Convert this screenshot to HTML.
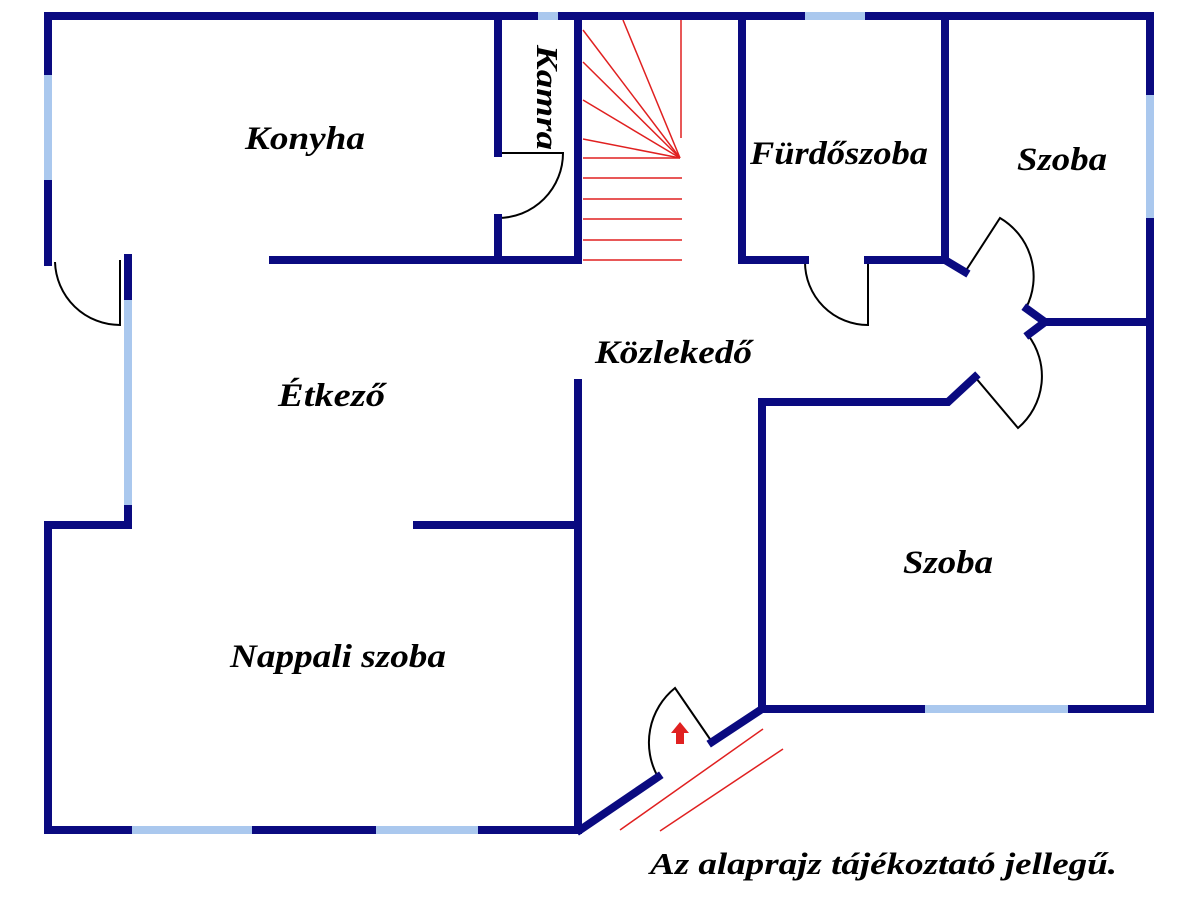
<!DOCTYPE html>
<html><head><meta charset="utf-8"><style>
html,body{margin:0;padding:0;background:#fff;width:1200px;height:900px;overflow:hidden}
text{font-family:"Liberation Serif",serif;font-weight:bold;font-style:italic;fill:#000}
</style></head><body>
<svg width="1200" height="900" viewBox="0 0 1200 900" xmlns="http://www.w3.org/2000/svg">
<g stroke="#e02020" stroke-width="1.5" fill="none">
<line x1="680" y1="158" x2="583" y2="30"/>
<line x1="680" y1="158" x2="583" y2="62"/>
<line x1="680" y1="158" x2="583" y2="100"/>
<line x1="680" y1="158" x2="583" y2="139"/>
<line x1="680" y1="158" x2="623" y2="20"/>
<line x1="681" y1="20" x2="681" y2="138"/>
<line x1="583" y1="158" x2="680" y2="158"/>
<line x1="583" y1="178" x2="682" y2="178"/>
<line x1="583" y1="199" x2="682" y2="199"/>
<line x1="583" y1="219" x2="682" y2="219"/>
<line x1="583" y1="240" x2="682" y2="240"/>
<line x1="583" y1="260" x2="682" y2="260"/>
<line x1="620" y1="830" x2="763" y2="729"/>
<line x1="660" y1="831" x2="783" y2="749"/>
</g>
<g stroke="#000" stroke-width="2" fill="none">
<path d="M498 153 L563 153 A65 65 0 0 1 498 218"/>
<path d="M55 262 A65 65 0 0 0 120 325 L120 260"/>
<path d="M805 262 A63 63 0 0 0 868 325 L868 260"/>
<path d="M965 272 L1000 218 A68 68 0 0 1 1026 308"/>
<path d="M1028 335 A68 68 0 0 1 1018 428 L975 377"/>
<path d="M712 742 L675 688 A70 70 0 0 0 658 777"/>
</g>
<g stroke="#0a0a80" stroke-width="8" fill="none" stroke-linecap="square" stroke-linejoin="miter">
<path d="M48 262 L48 16 L1150 16 L1150 709 L762 709"/>
<path d="M128 258 L128 525 L48 525 L48 830 L578 830"/>
<path d="M498 16 L498 153"/>
<path d="M498 218 L498 260"/>
<path d="M273 260 L578 260 L578 16"/>
<path d="M742 16 L742 260 L805 260"/>
<path d="M868 260 L945 260 L945 16"/>
<path d="M945 260 L965 272"/>
<path d="M1027 309 L1045 322 L1029 334"/>
<path d="M1045 322 L1150 322"/>
<path d="M975 377 L948 402 L762 402 L762 709 L712 742"/>
<path d="M658 777 L580 830"/>
<path d="M578 383 L578 830"/>
<path d="M417 525 L578 525"/>
</g>
<g stroke="#aac8ee" stroke-width="8" fill="none">
<line x1="48" y1="75" x2="48" y2="180"/>
<line x1="128" y1="300" x2="128" y2="505"/>
<line x1="538" y1="16" x2="558" y2="16"/>
<line x1="805" y1="16" x2="865" y2="16"/>
<line x1="1150" y1="95" x2="1150" y2="218"/>
<line x1="925" y1="709" x2="1068" y2="709"/>
<line x1="132" y1="830" x2="252" y2="830"/>
<line x1="376" y1="830" x2="478" y2="830"/>
</g>
<path d="M680 722 L689 733 L684 733 L684 744 L676 744 L676 733 L671 733 Z" fill="#e02020"/>
<text x="245" y="149" font-size="33" textLength="120" lengthAdjust="spacingAndGlyphs">Konyha</text>
<text x="750" y="164" font-size="33" textLength="178" lengthAdjust="spacingAndGlyphs">Fürdőszoba</text>
<text x="1017" y="170" font-size="33" textLength="90" lengthAdjust="spacingAndGlyphs">Szoba</text>
<text x="595" y="363" font-size="33" textLength="157" lengthAdjust="spacingAndGlyphs">Közlekedő</text>
<text x="278" y="406" font-size="33" textLength="107" lengthAdjust="spacingAndGlyphs">Étkező</text>
<text x="903" y="573" font-size="33" textLength="90" lengthAdjust="spacingAndGlyphs">Szoba</text>
<text x="230" y="667" font-size="33" textLength="216" lengthAdjust="spacingAndGlyphs">Nappali szoba</text>
<text x="650" y="874" font-size="31" textLength="467" lengthAdjust="spacingAndGlyphs">Az alaprajz tájékoztató jellegű.</text>
<text transform="translate(537,45) rotate(90)" font-size="31" textLength="105" lengthAdjust="spacingAndGlyphs">Kamra</text>
</svg>
</body></html>
